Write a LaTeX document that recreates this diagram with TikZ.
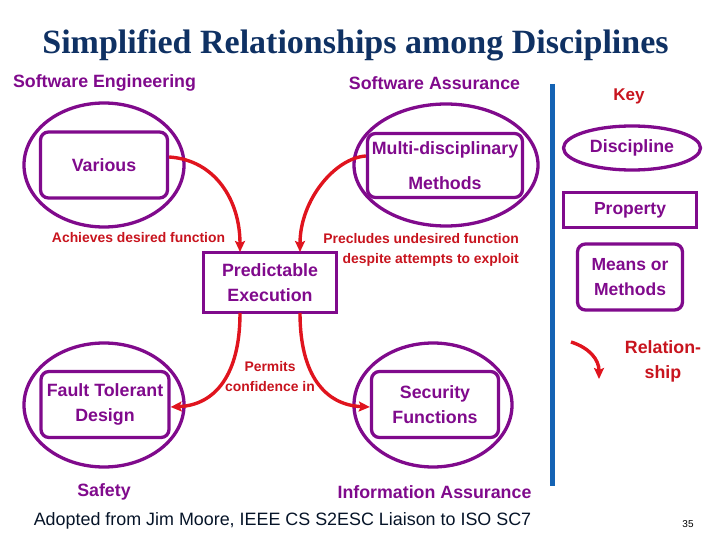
\documentclass[tikz,border=0pt]{standalone}
\usepackage{fontspec}
\setmainfont{Liberation Sans}
\newfontfamily\titlefont{Liberation Serif}
\usetikzlibrary{shapes.geometric,arrows.meta}
\definecolor{navy}{HTML}{0F3163}
\definecolor{purp}{HTML}{800A8C}
\definecolor{arr}{HTML}{E0141E}
\definecolor{lab}{HTML}{C8141E}
\definecolor{bar}{HTML}{1463B4}
\tikzset{
  disc/.style={ellipse, draw=purp, line width=3.3pt, inner sep=0pt},
  meth/.style={rectangle, rounded corners=8pt, draw=purp, line width=3.3pt, text=purp, align=center, font=\fontsize{17.8}{25}\selectfont\bfseries, inner sep=0pt},
  prop/.style={rectangle, draw=purp, line width=3.3pt, text=purp, align=center, font=\fontsize{17.8}{25}\selectfont\bfseries, inner sep=0pt},
  dname/.style={text=purp, font=\fontsize{17.8}{20}\selectfont\bfseries, inner sep=0pt},
  rlab/.style={text=lab, font=\fontsize{13.9}{20}\selectfont\bfseries, inner sep=0pt, align=center},
  rel/.style={draw=arr, line width=3.4pt, -{Stealth[length=11pt,width=10pt,inset=2pt]}},
}
\begin{document}
\begin{tikzpicture}[x=1pt,y=-1pt]
\useasboundingbox (0,0) rectangle (720,540);
\node[text=navy, font=\titlefont\fontsize{34}{38}\selectfont\bfseries, inner sep=0pt] (title) at (355.5,45) {Simplified Relationships among Disciplines};

% disciplines
\node[disc, minimum width=160, minimum height=124] (se) at (104,165) {};
\node[disc, minimum width=184, minimum height=122] (sa) at (446,165) {};
\node[disc, minimum width=160, minimum height=124] (sf) at (104,405) {};
\node[disc, minimum width=158, minimum height=124] (ia) at (433,405) {};

\node[dname] (sel) at (104.5,83) {Software Engineering};
\node[dname] (sal) at (434.5,83) {Software Assurance};
\node[dname] (sfl) at (104,492) {Safety};
\node[dname] (ial) at (434.5,492) {Information Assurance};

% methods
\node[meth, minimum width=127, minimum height=66] (var) at (104,165) {Various};
\node[meth, minimum width=155, minimum height=64, font=\fontsize{17.8}{35}\selectfont\bfseries] (mdm) at (445,165.5) {Multi-disciplinary\\Methods};
\node[meth, minimum width=128, minimum height=66] (ftd) at (105,404.5) {Fault Tolerant\\Design};
\node[meth, minimum width=127, minimum height=66] (scf) at (435,404.5) {Security\\Functions};

% property
\node[prop, minimum width=133, minimum height=60] (pe) at (270,282.5) {Predictable\\Execution};

% relationships
\coordinate (pet1) at (240,252);
\coordinate (pet2) at (300,252);
\coordinate (peb1) at (240,313);
\coordinate (peb2) at (300,313);
\draw[rel] (var.east |- 0,157) .. controls (215,160) and (240,200) .. (pet1);
\draw[rel] (mdm.west |- 0,156) .. controls (335,158) and (300,200) .. (pet2);
\draw[rel] (peb1) .. controls (240,375) and (215,405) .. (ftd.east |- 0,407);
\draw[rel] (peb2) .. controls (300,375) and (325,405) .. (scf.west |- 0,407);

\node[rlab] (l1) at (138.5,238) {Achieves desired function};
\node[rlab, align=right, anchor=east] (l2) at (519,250) {Precludes undesired function\\despite attempts to exploit};
\node[rlab] (l3) at (270,377) {Permits\\confidence in};

% separator
\draw[bar, line width=5pt] (552,84) -- (552,486);

% key
\node[text=lab, font=\fontsize{17}{18}\selectfont\bfseries, inner sep=0pt] (key) at (629,96) {Key};
\node[disc, minimum width=137, minimum height=44, text=purp, font=\fontsize{17.8}{19}\selectfont\bfseries] (kd) at (632,148) {Discipline};
\node[prop, minimum width=133, minimum height=35, font=\fontsize{17.5}{18}\selectfont\bfseries] (kp) at (630,210) {Property};
\node[meth, minimum width=105, minimum height=66, font=\fontsize{17.5}{25}\selectfont\bfseries] (km) at (630,277) {Means or\\Methods};
\coordinate (kr1) at (571,342);
\coordinate (kr2) at (599,379);
\draw[rel] (kr1) .. controls (590,348) and (599,360) .. (kr2);
\node[text=lab, font=\fontsize{17.8}{25}\selectfont\bfseries, inner sep=0pt, align=center] (krl) at (663,361) {Relation-\\ship};

% footer
\node[text=navy!40!black, font=\fontsize{17.9}{20}\selectfont, inner sep=0pt] (src) at (282.5,521) {Adopted from Jim Moore, IEEE CS S2ESC Liaison to ISO SC7};
\node[font=\fontsize{10}{12}\selectfont, inner sep=0pt] (pg) at (688,524) {35};
\end{tikzpicture}
\end{document}
